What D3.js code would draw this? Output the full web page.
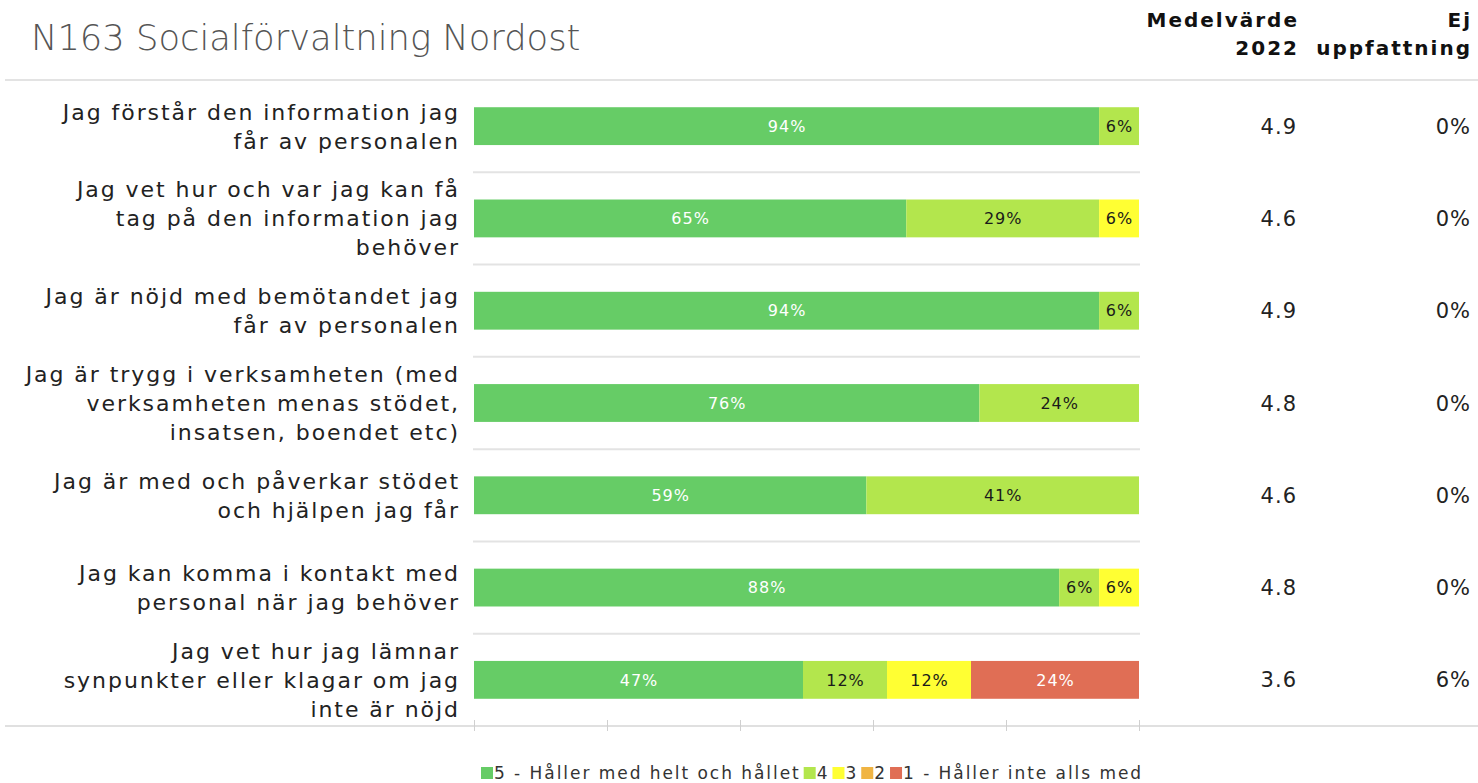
<!DOCTYPE html>
<html><head><meta charset="utf-8">
<script src="https://cdn.jsdelivr.net/npm/d3@7"></script>
<style>
body{margin:0;background:#fff;}
text{font-family:"DejaVu Sans",sans-serif;}
</style></head>
<body><svg id="chart" width="1478" height="783"></svg>
<script>
const title = "N163 Socialförvaltning Nordost";
const categories = [
  ["Jag förstår den information jag","får av personalen"],
  ["Jag vet hur och var jag kan få","tag på den information jag","behöver"],
  ["Jag är nöjd med bemötandet jag","får av personalen"],
  ["Jag är trygg i verksamheten (med","verksamheten menas stödet,","insatsen, boendet etc)"],
  ["Jag är med och påverkar stödet","och hjälpen jag får"],
  ["Jag kan komma i kontakt med","personal när jag behöver"],
  ["Jag vet hur jag lämnar","synpunkter eller klagar om jag","inte är nöjd"]
];
const seriesNames = ["5 - Håller med helt och hållet","4","3","2","1 - Håller inte alls med"];
const seriesColors = ["#66CC66","#B3E64D","#FFFF33","#F0B443","#E06E55"];
const labelColors = ["#ffffff","#1a1a1a","#1a1a1a","#1a1a1a","#ffffff"];
const s5 = [94,65,94,76,59,88,47];
const s4 = [6,29,6,24,41,6,12];
const s3 = [0,6,0,0,0,6,12];
const s2 = [0,0,0,0,0,0,0];
const s1 = [0,0,0,0,0,0,24];
const meanValues = ["4.9","4.6","4.9","4.8","4.6","4.8","3.6"];
const ejValues = ["0%","0%","0%","0%","0%","0%","6%"];
const headerMean = ["Medelvärde","2022"];
const headerEj = ["Ej","uppfattning"];
const xTicks = [0,0.2,0.4,0.6,0.8,1];

const svg = d3.select("#chart");
const rows = categories.map((c,i)=>({i, v:[s5[i],s4[i],s3[i],s2[i],s1[i]]}));
const keys = [0,1,2,3,4];
const stack = d3.stack().keys(keys).value((d,k)=>d.v[k]).offset(d3.stackOffsetExpand);
const stacked = stack(rows);

const x = d3.scaleLinear().domain([0,1]).range([474,1139]);
const y = d3.scaleBand().domain(d3.range(categories.length)).range([80,726]).paddingInner(0.59).paddingOuter(0.295);
const band = d3.scaleBand().domain(d3.range(categories.length)).range([80,726]);

// title
svg.append("text").attr("x",31).attr("y",50).attr("font-size",35.3).attr("font-weight",200)
  .attr("fill","#555").text(title);

// header
const hdr = svg.append("g").attr("font-weight","bold").attr("font-size",20).attr("fill","#111").attr("text-anchor","end").attr("letter-spacing",2);
headerMean.forEach((t,k)=>hdr.append("text").attr("x",1299).attr("y",27+k*28).text(t));
headerEj.forEach((t,k)=>hdr.append("text").attr("x",1472).attr("y",27+k*28).text(t));

// header line
svg.append("line").attr("x1",5).attr("x2",1478).attr("y1",80).attr("y2",80).attr("stroke","#e3e3e3").attr("stroke-width",2);

// row separators
svg.append("g").selectAll("line").data(d3.range(1,categories.length)).join("line")
  .attr("x1",473).attr("x2",1140).attr("y1",d=>band(d)).attr("y2",d=>band(d))
  .attr("stroke","#e3e3e3").attr("stroke-width",2);

// bars
const g = svg.append("g");
stacked.forEach((layer,k)=>{
  const lg = g.append("g");
  lg.selectAll("rect").data(layer.filter(d=>d[1]-d[0]>0)).join("rect")
    .attr("x",d=>x(d[0])).attr("width",d=>x(d[1])-x(d[0]))
    .attr("y",d=>y(d.data.i)).attr("height",y.bandwidth())
    .attr("fill",seriesColors[k]);
  lg.selectAll("text").data(layer.filter(d=>d[1]-d[0]>0)).join("text")
    .attr("x",d=>(x(d[0])+x(d[1]))/2+0.5).attr("y",d=>y(d.data.i)+y.bandwidth()/2)
    .attr("dy","0.36em").attr("text-anchor","middle").attr("font-size",16).attr("letter-spacing",1)
    .attr("fill",labelColors[k]).text(d=>d.data.v[k]+"%");
});

// category labels
const lab = svg.append("g").attr("font-size",22).attr("fill","#222").attr("text-anchor","end").attr("letter-spacing",1.95);
categories.forEach((lines,i)=>{
  const cy = band(i)+band.bandwidth()/2;
  const lh = 29;
  lines.forEach((t,k)=>{
    lab.append("text").attr("x",460).attr("y",cy+(k-(lines.length-1)/2)*lh).attr("dy","0.36em").text(t);
  });
});

// mean & ej
const vals = svg.append("g").attr("font-size",21).attr("fill","#222").attr("text-anchor","end").attr("letter-spacing",1);
meanValues.forEach((t,i)=>vals.append("text").attr("x",1297).attr("y",band(i)+band.bandwidth()/2).attr("dy","0.36em").text(t));
ejValues.forEach((t,i)=>vals.append("text").attr("x",1471).attr("y",band(i)+band.bandwidth()/2).attr("dy","0.36em").text(t));

// bottom axis
svg.append("line").attr("x1",5).attr("x2",1478).attr("y1",726).attr("y2",726).attr("stroke","#e0e0e0").attr("stroke-width",2);
const ax = svg.append("g").attr("transform","translate(0,720)")
  .call(d3.axisBottom(x).tickValues(xTicks).tickSize(11).tickFormat(""));
ax.select(".domain").remove();
ax.selectAll(".tick line").attr("stroke","#d0d0d0");

// legend
const leg = svg.append("g").attr("font-size",17).attr("fill","#333").attr("letter-spacing",1.95);
let lx = 481;
seriesNames.forEach((n,k)=>{
  leg.append("rect").attr("x",lx).attr("y",767).attr("width",12).attr("height",12).attr("fill",seriesColors[k]);
  const t = leg.append("text").attr("x",lx+13).attr("y",779).text(n);
  lx += 13 + t.node().getComputedTextLength() + 3;
});
</script></body></html>
